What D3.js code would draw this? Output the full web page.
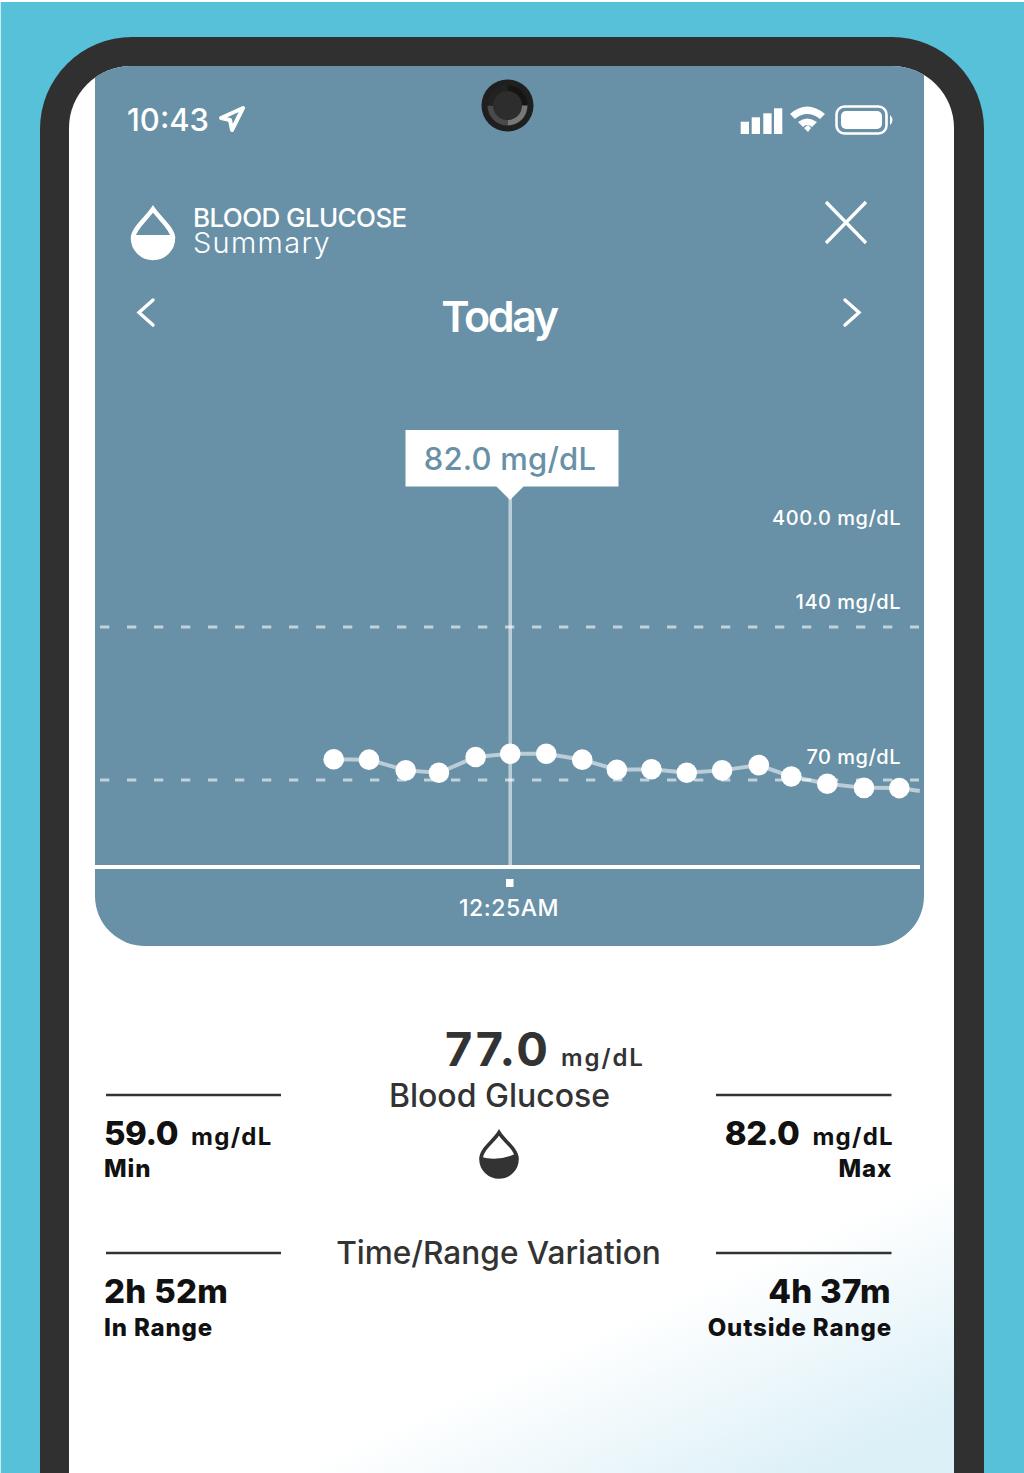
<!DOCTYPE html>
<html>
<head>
<meta charset="utf-8">
<script src="https://cdn.jsdelivr.net/npm/d3@7"></script>
<style>
  html, body { margin: 0; padding: 0; background: #fff; }
  svg { display: block; }
  text { font-family: "Inter", "Noto Sans", sans-serif; }
</style>
</head>
<body>
<div id="chart"></div>
<script>
// Glucose readings, minutes after midnight and mg/dL
const readings = [
    { t: 0, v: 79.5 }, { t: 5, v: 79.3 }, { t: 10.2, v: 74.4 }, { t: 14.9, v: 73.3 },
    { t: 20.1, v: 80.5 }, { t: 25, v: 82 }, { t: 30.1, v: 82 }, { t: 35.2, v: 79.3 },
    { t: 40.1, v: 74.7 }, { t: 45, v: 74.9 }, { t: 50, v: 73.3 }, { t: 55, v: 74.4 },
    { t: 60.2, v: 76.8 }, { t: 64.8, v: 71.6 }, { t: 69.9, v: 68.3 }, { t: 75.1, v: 66.4 },
    { t: 80.1, v: 66.3 }
];
// The trace carries on past the last dot up to the panel edge
const lastTrace = { t: 83, v: 65 };

const panel = "#6890a6";
const width = 1024, height = 1473;

const svg = d3.select("#chart").append("svg").attr("width", width).attr("height", height);
const defs = svg.append("defs");

const grad = defs.append("linearGradient").attr("id", "screenFade")
    .attr("gradientUnits", "userSpaceOnUse")
    .attr("x1", 954).attr("y1", 1170).attr("x2", 1045).attr("y2", 1370);
grad.append("stop").attr("offset", 0).attr("stop-color", "#ffffff");
grad.append("stop").attr("offset", 1).attr("stop-color", "#dcf0f7");

defs.append("clipPath").attr("id", "screenClip").append("rect")
    .attr("x", 69).attr("y", 66).attr("width", 885).attr("height", 1500).attr("rx", 62);

// Phone body
svg.append("rect").attr("x", 0.7).attr("y", 2).attr("width", width).attr("height", height).attr("fill", "#56c1d9");
svg.append("rect").attr("x", 40).attr("y", 37).attr("width", 944).attr("height", 1600)
    .attr("rx", 92).attr("fill", "#303030");
svg.append("rect").attr("x", 69).attr("y", 66).attr("width", 885).attr("height", 1500)
    .attr("rx", 62).attr("fill", "#ffffff");
svg.append("rect").attr("x", 69).attr("y", 950).attr("width", 885).attr("height", 523)
    .attr("fill", "url(#screenFade)");

// Blue panel behind the chart
const screen = svg.append("g").attr("clip-path", "url(#screenClip)");
screen.append("path").attr("fill", panel)
    .attr("d", "M95,40H924V896a50,50 0 0 1 -50,50H145a50,50 0 0 1 -50,-50Z");

// Scales
const x = d3.scaleLinear().domain([0, 80.1]).range([333.7, 899.3]);
const y = d3.scaleLinear().domain([70, 140]).range([780, 627]);

// Threshold lines
const g = svg.append("g");
[70, 140].forEach(level => {
    g.append("line").attr("x1", 100).attr("x2", 919)
        .attr("y1", y(level)).attr("y2", y(level))
        .attr("stroke", "#fff").attr("stroke-opacity", 0.6).attr("stroke-width", 3.2)
        .attr("stroke-dasharray", "9.3 17.7");
});

// Selected reading marker
const picked = readings[5];
g.append("line").attr("x1", x(picked.t)).attr("x2", x(picked.t))
    .attr("y1", 495).attr("y2", 866)
    .attr("stroke", "#fff").attr("stroke-opacity", 0.55).attr("stroke-width", 3.6);

// Baseline
g.append("line").attr("x1", 95).attr("x2", 920).attr("y1", 867).attr("y2", 867)
    .attr("stroke", "#fff").attr("stroke-width", 3.8);

// Trace and dots
const line = d3.line().x(d => x(d.t)).y(d => y(d.v));
g.append("path").datum(readings.concat([lastTrace])).attr("d", line)
    .attr("fill", "none").attr("stroke", "#fff").attr("stroke-opacity", 0.55).attr("stroke-width", 4);
g.selectAll("circle").data(readings).join("circle")
    .attr("cx", d => x(d.t)).attr("cy", d => y(d.v)).attr("r", 10.3).attr("fill", "#fff");

// Level labels
const levelLabel = (txt, ty) => g.append("text").attr("x", 901).attr("y", ty)
    .attr("text-anchor", "end").attr("font-size", 20).attr("font-weight", 500)
    .attr("letter-spacing", 0.5).attr("fill", "#fff").text(txt);
levelLabel("400.0 mg/dL", 525);
levelLabel("140 mg/dL", 609);
levelLabel("70 mg/dL", 764);

// Tooltip
g.append("rect").attr("x", 405.5).attr("y", 430).attr("width", 213).attr("height", 56.5).attr("fill", "#fff");
g.append("path").attr("d", "M496,486H524L510,500Z").attr("fill", "#fff");
g.append("text").attr("x", 510).attr("y", 470).attr("text-anchor", "middle")
    .attr("font-size", 31).attr("font-weight", 500).attr("letter-spacing", 0.2).attr("fill", panel)
    .text(picked.v.toFixed(1) + " mg/dL");

// Time tick
g.append("rect").attr("x", 506).attr("y", 879).attr("width", 7.5).attr("height", 8).attr("fill", "#fff");
g.append("text").attr("x", 509).attr("y", 916).attr("text-anchor", "middle")
    .attr("font-size", 23).attr("font-weight", 500).attr("letter-spacing", 0.5).attr("fill", "#fff").text("12:25AM");

// Header
const head = svg.append("g").attr("fill", "#fff");
head.append("text").attr("x", 127).attr("y", 131).attr("font-size", 31).attr("font-weight", 500).text("10:43");
head.append("path").attr("d", "M221,118L243,108L232,130L230,120Z").attr("fill", "none")
    .attr("stroke", "#fff").attr("stroke-width", 4).attr("stroke-linejoin", "round");

// Signal bars
[[740.7, 121.7], [751.7, 117.3], [763.3, 113.3], [774, 108.3]].forEach(b => {
    head.append("rect").attr("x", b[0]).attr("y", b[1]).attr("width", 8.3).attr("height", 134 - b[1]);
});
// Wifi
head.append("path").attr("d", "M790,114Q807,99 825,114L820,119Q807,109 795,119Z");
head.append("path").attr("d", "M798,122Q807,115 817,122L812,127Q807,123 803,127Z");
head.append("path").attr("d", "M804,128L808,125L811,128L808,132Z");
// Battery
head.append("rect").attr("x", 836.5).attr("y", 106.5).attr("width", 50).attr("height", 27).attr("rx", 8)
    .attr("fill", "none").attr("stroke", "#fff").attr("stroke-width", 2.6);
head.append("rect").attr("x", 841).attr("y", 111).attr("width", 41).attr("height", 18).attr("rx", 5);
head.append("path").attr("d", "M890,115Q895,120 890,125Z");

// Camera
const cam = svg.append("g").attr("transform", "translate(507.5,105.5)");
cam.append("circle").attr("r", 26).attr("fill", "#1f1f1f");
const ring = d3.arc().innerRadius(14).outerRadius(20);
[[0, 90, "#151515"], [90, 180, "#777777"], [180, 270, "#4a4a4a"], [270, 360, "#222222"]].forEach(a => {
    cam.append("path").attr("fill", a[2])
        .attr("d", ring({ startAngle: a[0] * Math.PI / 180, endAngle: a[1] * Math.PI / 180 }));
});
cam.append("circle").attr("r", 14.5).attr("fill", "#2d2d2d");

// Title block
head.append("path").attr("fill", "none").attr("stroke", "#fff").attr("stroke-width", 4.5)
    .attr("d", "M153,209C146,219 133,229 133,238A20,20 0 0 0 173,238C173,229 160,219 153,209Z");
head.append("path").attr("d", "M133,235H173V238A20,20 0 0 1 133,238Z");
head.append("text").attr("x", 193).attr("y", 227).attr("font-size", 26).attr("font-weight", 500).attr("letter-spacing", -0.6).text("BLOOD GLUCOSE");
head.append("text").attr("x", 193).attr("y", 253).attr("font-size", 29).attr("font-weight", 300).attr("letter-spacing", 1.3).text("Summary");
head.append("path").attr("d", "M826,202L866,243M866,202L826,243").attr("stroke", "#fff").attr("stroke-width", 3.3).attr("fill", "none");
head.append("path").attr("d", "M153,300L139,312.5L153,325").attr("fill", "none").attr("stroke", "#fff").attr("stroke-width", 3.4).attr("stroke-linecap", "round");
head.append("path").attr("d", "M845,300L859,312.5L845,325").attr("fill", "none").attr("stroke", "#fff").attr("stroke-width", 3.4).attr("stroke-linecap", "round");
head.append("text").attr("x", 499).attr("y", 332).attr("text-anchor", "middle").attr("font-size", 43)
    .attr("font-weight", 600).attr("letter-spacing", -2.4).text("Today");

// Summary figures below the chart
const soft = "#333333", ink = "#111111";
const low = svg.append("g").attr("fill", ink);
const big = (tx, ty, anchor, txt, size, spacing, fill) => low.append("text").attr("x", tx).attr("y", ty)
    .attr("text-anchor", anchor).attr("font-size", size).attr("font-weight", 800)
    .attr("letter-spacing", spacing).attr("fill", fill || ink).text(txt);
const unit = (tx, ty, anchor, fill, weight, spacing) => low.append("text").attr("x", tx).attr("y", ty)
    .attr("text-anchor", anchor).attr("font-size", 24).attr("font-weight", weight)
    .attr("letter-spacing", spacing).attr("fill", fill).text("mg/dL");
const caption = (tx, ty, anchor, txt) => low.append("text").attr("x", tx).attr("y", ty).attr("text-anchor", anchor)
    .attr("font-size", 24).attr("font-weight", 800).attr("letter-spacing", 0.85).text(txt);

big(445, 1066, "start", "77.0", 47, 2.4, soft).attr("font-weight", 700);
unit(561, 1066, "start", soft, 600, 1.9);
low.append("text").attr("x", 499.5).attr("y", 1107).attr("text-anchor", "middle").attr("font-size", 32)
    .attr("font-weight", 500).attr("fill", soft).text("Blood Glucose");
low.append("text").attr("x", 498.5).attr("y", 1264).attr("text-anchor", "middle").attr("font-size", 31.6)
    .attr("font-weight", 500).attr("fill", soft).text("Time/Range Variation");

[[106, 281, 1095], [716, 891.5, 1095], [106, 281, 1253], [716, 891.5, 1253]].forEach(r => {
    low.append("line").attr("x1", r[0]).attr("x2", r[1]).attr("y1", r[2]).attr("y2", r[2])
        .attr("stroke", soft).attr("stroke-width", 2.6);
});
big(104, 1145, "start", "59.0", 33, -0.4);
unit(191, 1145, "start", ink, 700, 1.3);
caption(104, 1177, "start", "Min");
big(799.5, 1145, "end", "82.0", 33, -0.4);
unit(894, 1145, "end", ink, 700, 1.3);
caption(892, 1177, "end", "Max");
big(104, 1303, "start", "2h 52m", 33, 0.3);
caption(104, 1335.5, "start", "In Range");
big(891, 1303, "end", "4h 37m", 33, 0.3);
caption(892, 1335.5, "end", "Outside Range");

// Small drop icon
low.append("path").attr("fill", "none").attr("stroke", soft).attr("stroke-width", 3.6)
    .attr("d", "M499,1132.5C494,1141 481,1149 481,1159A18,18 0 0 0 517,1159C517,1149 504,1141 499,1132.5Z");
low.append("path").attr("fill", soft).attr("d", "M481,1157Q499,1162 517,1153V1159A18,18 0 0 1 481,1159Z");
</script>
</body>
</html>
